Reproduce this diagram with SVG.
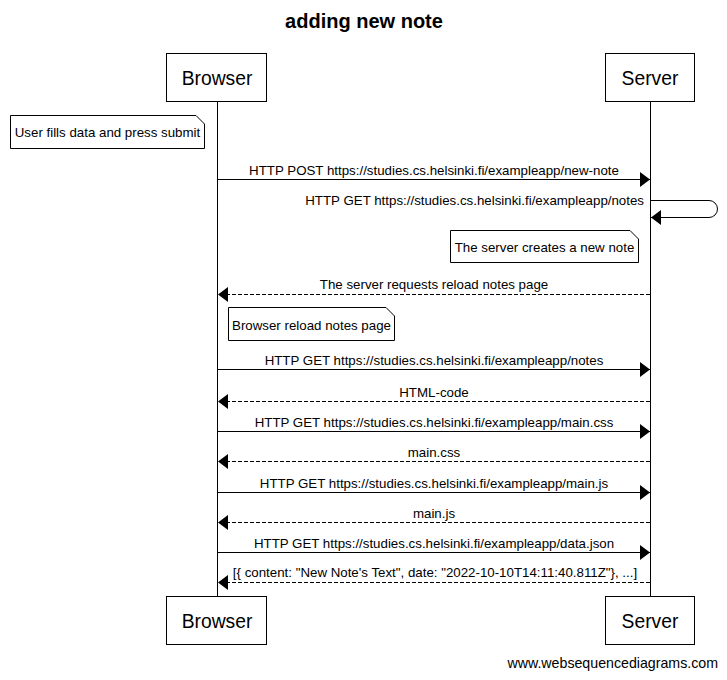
<svg xmlns="http://www.w3.org/2000/svg" width="727" height="680" viewBox="0 0 727 680">
<style>
text{font-family:"Liberation Sans",Arial,sans-serif;fill:#000}
.title{font-size:20px;font-weight:bold;text-anchor:middle}
.actor{font-size:19.3px;text-anchor:middle}
.msg{font-size:13.3px;text-anchor:middle}
.note-t{font-size:13.3px;text-anchor:middle}
.box{fill:#fff;stroke:#000;stroke-width:1}
.life{stroke:#000;stroke-width:1}
.solid{fill:none;stroke:#000;stroke-width:1}
.dash{fill:none;stroke:#000;stroke-width:1;stroke-dasharray:4 2}
.note{fill:#fff;stroke:#000;stroke-width:1}
</style>
<defs>
<marker id="ah" markerUnits="userSpaceOnUse" markerWidth="11" markerHeight="16" refX="10" refY="7.5" orient="auto" viewBox="0 0 11 16">
<path d="M0,0 L10,7.5 L0,15 Z" fill="#000" stroke="none"/>
</marker>
</defs>
<rect width="727" height="680" fill="#fff"/>
<text class="title" x="364" y="28">adding new note</text>

<g id="lifelines">
<line class="life" x1="217.5" y1="102" x2="217.5" y2="596"/>
<line class="life" x1="650.5" y1="102" x2="650.5" y2="596"/>
</g>

<g id="browser">
<rect class="box" x="166.5" y="53.5" width="100" height="48"/>
<text class="actor" x="217" y="85">Browser</text>
<rect class="box" x="166.5" y="596.5" width="100" height="48"/>
<text class="actor" x="217" y="628">Browser</text>
</g>
<g id="server">
<rect class="box" x="605.5" y="53.5" width="89" height="48"/>
<text class="actor" x="650" y="85">Server</text>
<rect class="box" x="605.5" y="596.5" width="89" height="48"/>
<text class="actor" x="650" y="628">Server</text>
</g>

<g id="note1">
<path class="note" d="M10.5,115.5 H196 L204.5,124 V148.5 H10.5 Z"/>
<text class="note-t" x="107.5" y="137">User fills data and press submit</text>
</g>
<g id="note2">
<path class="note" d="M450.5,230.5 H630 L638.5,239 V262.5 H450.5 Z"/>
<text class="note-t" x="544.5" y="252">The server creates a new note</text>
</g>
<g id="note3">
<path class="note" d="M228.5,307.5 H386 L394.5,316 V340.5 H228.5 Z"/>
<text class="note-t" x="311.5" y="330">Browser reload notes page</text>
</g>

<g id="connectors">
<line class="solid" x1="217.5" y1="179.5" x2="650" y2="179.5" marker-end="url(#ah)"/>
<text class="msg" x="434" y="175">HTTP POST https://studies.cs.helsinki.fi/exampleapp/new-note</text>

<path class="solid" d="M650.5,200.5 H709 A8.5,8.5 0 0 1 709,217.5 H651" marker-end="url(#ah)"/>
<text class="msg" x="644" y="205" style="text-anchor:end">HTTP GET https://studies.cs.helsinki.fi/exampleapp/notes</text>

<line class="dash" x1="650" y1="294.5" x2="218" y2="294.5" marker-end="url(#ah)"/>
<text class="msg" x="434" y="289">The server requests reload notes page</text>

<line class="solid" x1="217.5" y1="369.5" x2="650" y2="369.5" marker-end="url(#ah)"/>
<text class="msg" x="434" y="364.5">HTTP GET https://studies.cs.helsinki.fi/exampleapp/notes</text>

<line class="dash" x1="650" y1="401.5" x2="218" y2="401.5" marker-end="url(#ah)"/>
<text class="msg" x="434" y="396.5">HTML-code</text>

<line class="solid" x1="217.5" y1="431.5" x2="650" y2="431.5" marker-end="url(#ah)"/>
<text class="msg" x="434" y="426.5">HTTP GET https://studies.cs.helsinki.fi/exampleapp/main.css</text>

<line class="dash" x1="650" y1="461.5" x2="218" y2="461.5" marker-end="url(#ah)"/>
<text class="msg" x="434" y="456.5">main.css</text>

<line class="solid" x1="217.5" y1="492.5" x2="650" y2="492.5" marker-end="url(#ah)"/>
<text class="msg" x="434" y="487.5">HTTP GET https://studies.cs.helsinki.fi/exampleapp/main.js</text>

<line class="dash" x1="650" y1="522.5" x2="218" y2="522.5" marker-end="url(#ah)"/>
<text class="msg" x="434" y="517.5">main.js</text>

<line class="solid" x1="217.5" y1="552.5" x2="650" y2="552.5" marker-end="url(#ah)"/>
<text class="msg" x="434" y="547.5">HTTP GET https://studies.cs.helsinki.fi/exampleapp/data.json</text>

<line class="dash" x1="650" y1="582.5" x2="218" y2="582.5" marker-end="url(#ah)"/>
<text class="msg" x="435" y="577">[{ content: "New Note's Text", date: "2022-10-10T14:11:40.811Z"}, ...]</text>
</g>

<text x="718" y="668" style="font-size:14.2px;text-anchor:end">www.websequencediagrams.com</text>
</svg>
